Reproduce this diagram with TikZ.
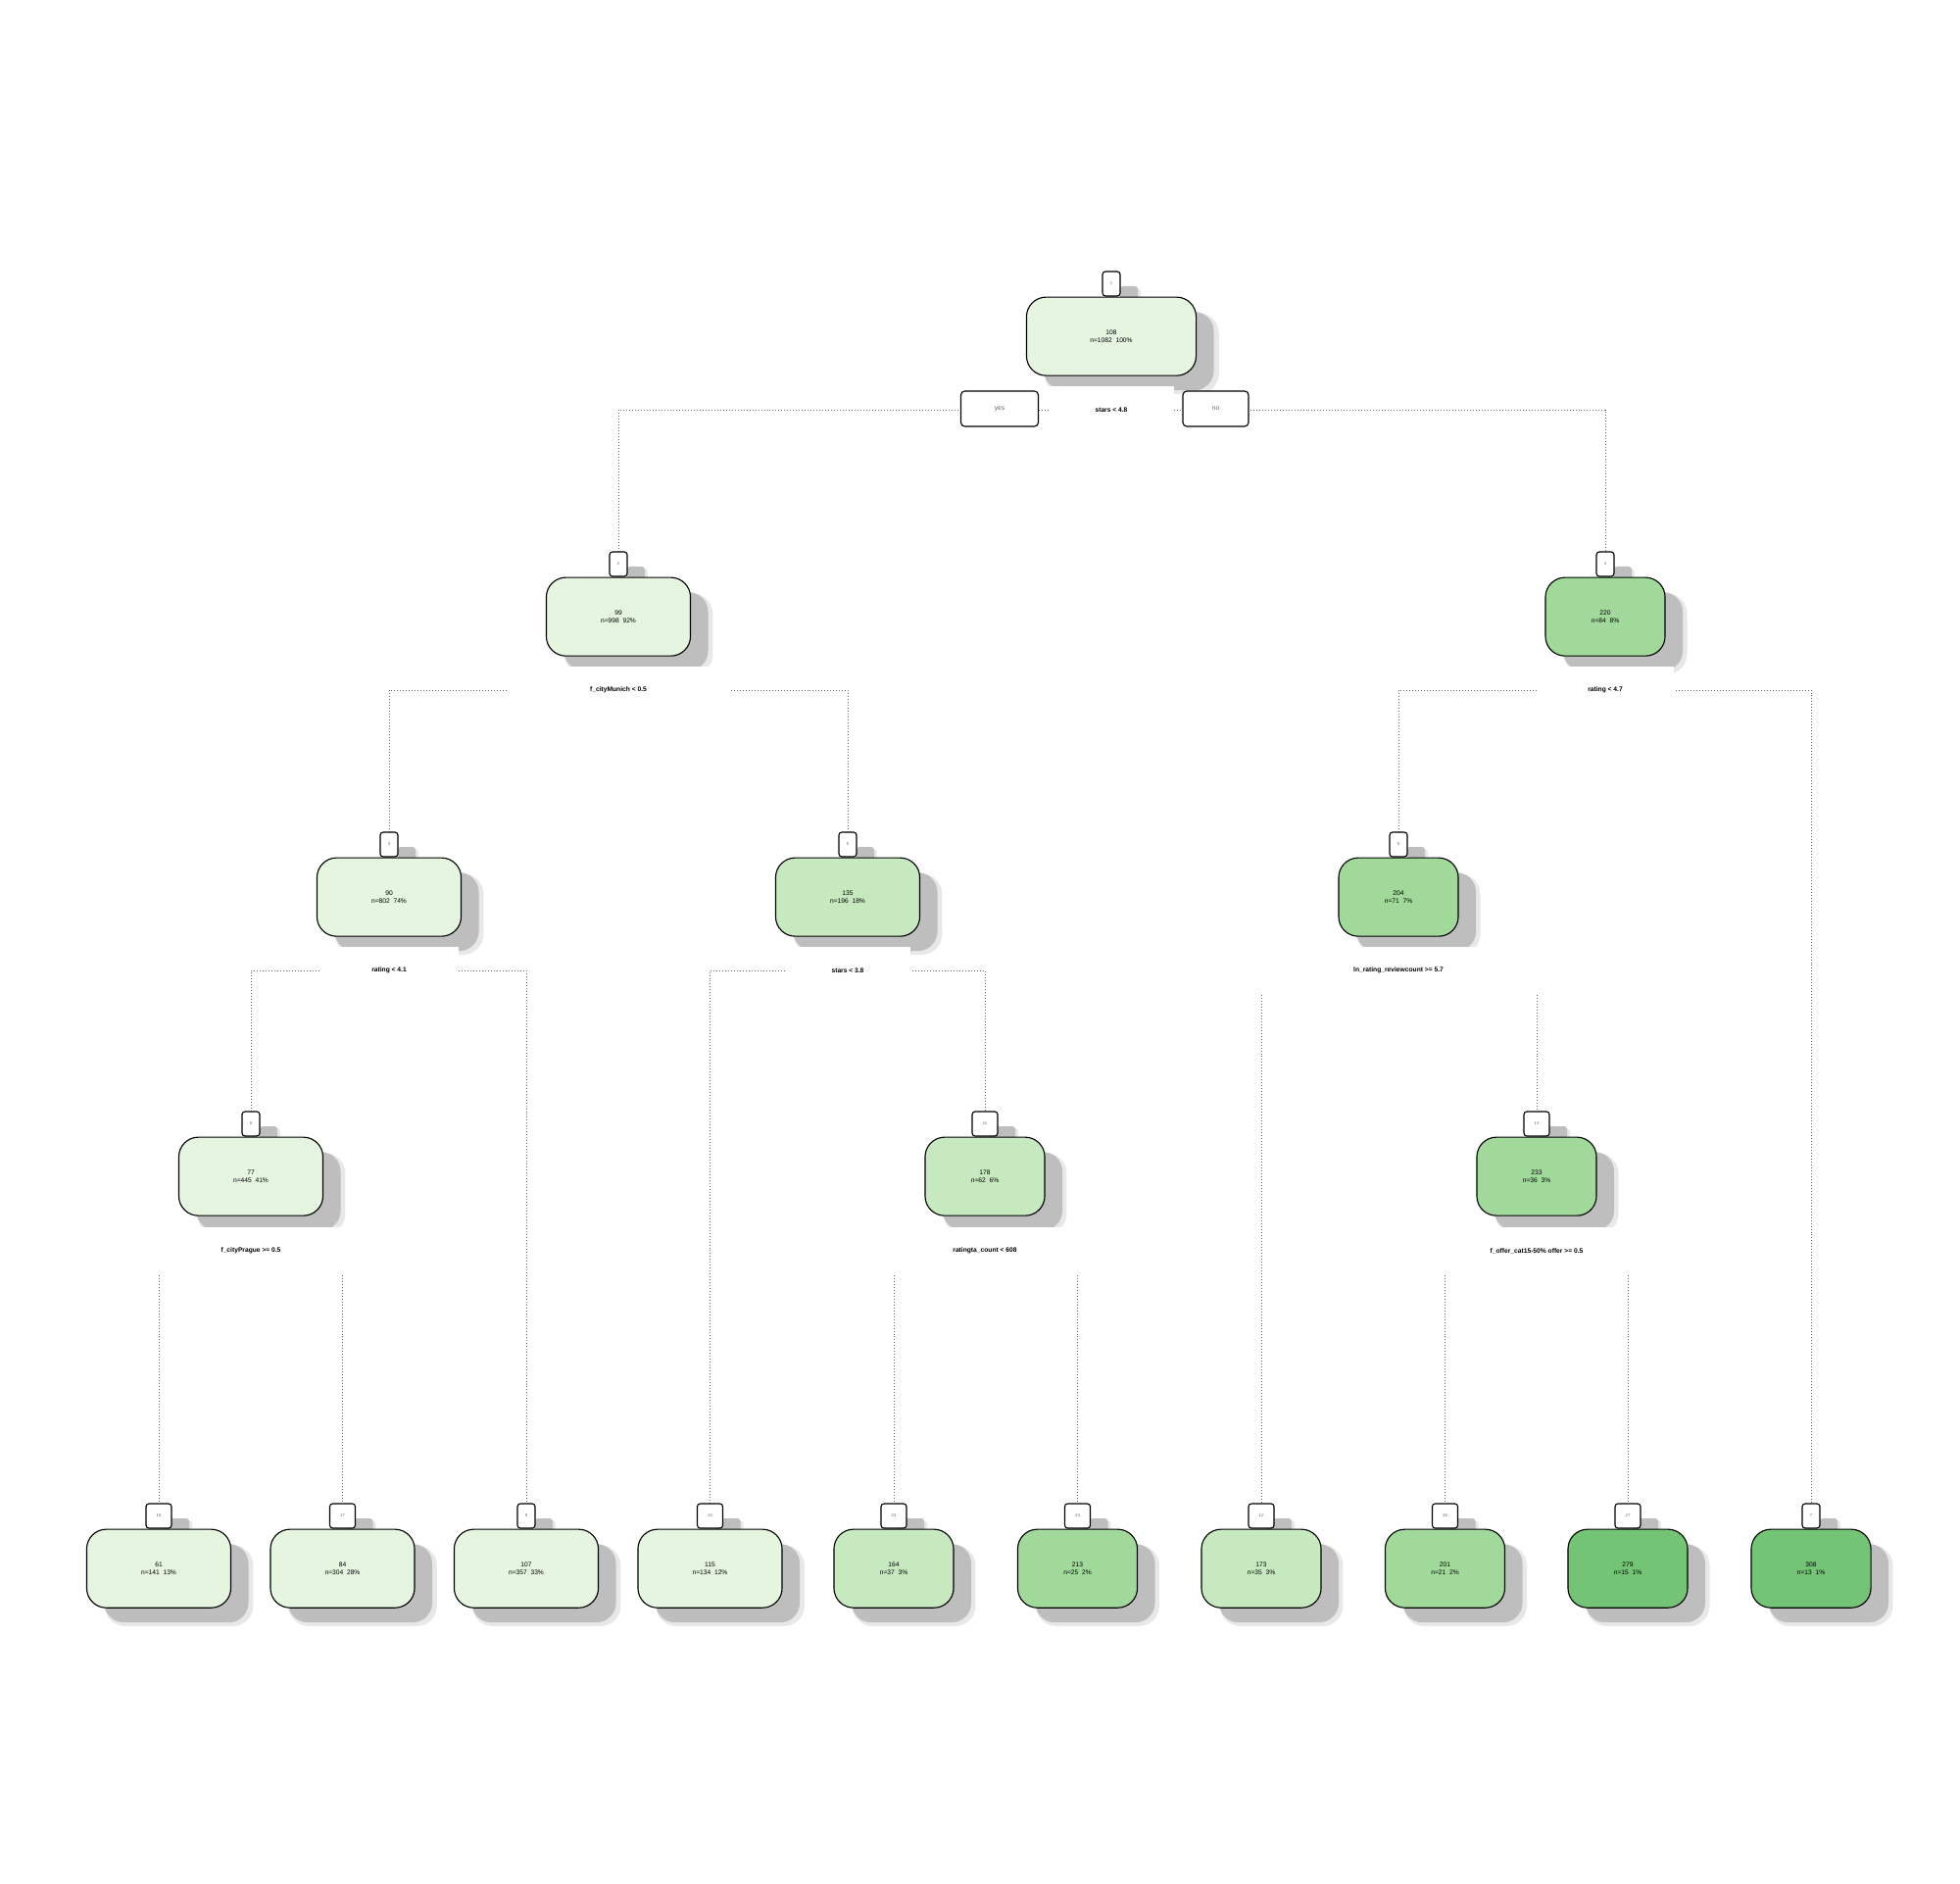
\documentclass[tikz,border=0pt]{standalone}
\usepackage{fontspec}
\setmainfont{Liberation Sans}
\usepackage{tikz}
\usetikzlibrary{positioning,shadows,backgrounds}
\definecolor{cLight}{HTML}{E5F5E0}
\definecolor{cPale}{HTML}{C7E9C0}
\definecolor{cMid}{HTML}{A1D99B}
\definecolor{cDeep}{HTML}{74C476}
\definecolor{cShadow}{HTML}{BEBEBE}
\newcommand{\boxfont}{\fontsize{1.9pt}{2.3pt}\selectfont}
\newcommand{\tabfont}{\fontsize{1.2pt}{1.4pt}\selectfont}
\newcommand{\splitfont}{\fontsize{1.9pt}{2.3pt}\selectfont\bfseries}
\tikzset{
  fuzzy/.style={drop shadow={shadow xshift=0.2cm,shadow yshift=-0.17cm,
                             shadow scale=1.03,fill=cShadow!35,opacity=1},
                drop shadow={shadow xshift=0.18cm,shadow yshift=-0.15cm,
                             fill=cShadow,opacity=1}},
  basebox/.style={rectangle,rounded corners=0.2cm,draw=black,line width=0.32pt,
                  align=center,font=\boxfont,inner sep=0pt,
                  minimum height=0.8cm,fuzzy},
  widebox/.style={basebox,minimum width=1.47cm},
  slimbox/.style={basebox,minimum width=1.22cm},
  tabnode/.style={rectangle,rounded corners=0.03cm,draw=black,line width=0.32pt,
                  fill=white,font=\tabfont,text=black!60,inner sep=0pt,
                  minimum width=0.18cm,minimum height=0.25cm,fuzzy},
  widetab/.style={tabnode,minimum width=0.26cm},
  splitlbl/.style={rectangle,fill=white,font=\splitfont,inner sep=0pt,
                   minimum height=0.48cm},
  yesno/.style={rectangle,rounded corners=0.04cm,draw=black,line width=0.32pt,
                fill=white,font=\boxfont,text=black!60,inner sep=0pt,
                minimum height=0.36cm},
  dotline/.style={line width=0.25pt,dash pattern=on 0.25pt off 0.6pt,
                  color=black!60}
}
\begin{document}
\begin{tikzpicture}[x=0.01cm,y=-0.01cm]
  \useasboundingbox (0,0) rectangle (2000,1922);

  % Root
  \node[tabnode] (t1) at (1134,289.5) {1};
  \node[basebox,fill=cLight,minimum width=1.73cm,below=0pt of t1] (n1)
      {108\\n=1082\ \ 100\%};

  % Level 2
  \node[tabnode] (t2) at (631,575.5) {2};
  \node[widebox,fill=cLight,below=0pt of t2] (n2) {99\\n=998\ \ 92\%};
  \node[tabnode] (t3) at (1638,575.5) {3};
  \node[slimbox,fill=cMid,below=0pt of t3] (n3) {220\\n=84\ \ 8\%};

  % Level 3
  \node[tabnode] (t4) at (397,861.5) {4};
  \node[widebox,fill=cLight,below=0pt of t4] (n4) {90\\n=802\ \ 74\%};
  \node[tabnode] (t5) at (865,861.5) {5};
  \node[widebox,fill=cPale,below=0pt of t5] (n5) {135\\n=196\ \ 18\%};
  \node[tabnode] (t6) at (1427,861.5) {6};
  \node[slimbox,fill=cMid,below=0pt of t6] (n6) {204\\n=71\ \ 7\%};

  % Level 4
  \node[tabnode] (t8) at (256,1146.5) {8};
  \node[widebox,fill=cLight,below=0pt of t8] (n8) {77\\n=445\ \ 41\%};
  \node[widetab] (t11) at (1005,1146.5) {11};
  \node[slimbox,fill=cPale,below=0pt of t11] (n11) {178\\n=62\ \ 6\%};
  \node[widetab] (t13) at (1568,1146.5) {13};
  \node[slimbox,fill=cMid,below=0pt of t13] (n13) {233\\n=36\ \ 3\%};

  % Leaves
  \node[widetab] (t16) at (162,1546.5) {16};
  \node[widebox,fill=cLight,below=0pt of t16] (n16) {61\\n=141\ \ 13\%};
  \node[widetab] (t17) at (349.5,1546.5) {17};
  \node[widebox,fill=cLight,below=0pt of t17] (n17) {84\\n=304\ \ 28\%};
  \node[tabnode] (t9) at (537,1546.5) {9};
  \node[widebox,fill=cLight,below=0pt of t9] (n9) {107\\n=357\ \ 33\%};
  \node[widetab] (t10) at (724.5,1546.5) {10};
  \node[widebox,fill=cLight,below=0pt of t10] (n10) {115\\n=134\ \ 12\%};
  \node[widetab] (t22) at (912,1546.5) {22};
  \node[slimbox,fill=cPale,below=0pt of t22] (n22) {164\\n=37\ \ 3\%};
  \node[widetab] (t23) at (1099.5,1546.5) {23};
  \node[slimbox,fill=cMid,below=0pt of t23] (n23) {213\\n=25\ \ 2\%};
  \node[widetab] (t12) at (1287,1546.5) {12};
  \node[slimbox,fill=cPale,below=0pt of t12] (n12) {173\\n=35\ \ 3\%};
  \node[widetab] (t26) at (1474.5,1546.5) {26};
  \node[slimbox,fill=cMid,below=0pt of t26] (n26) {201\\n=21\ \ 2\%};
  \node[widetab] (t27) at (1661,1546.5) {27};
  \node[slimbox,fill=cDeep,below=0pt of t27] (n27) {279\\n=15\ \ 1\%};
  \node[tabnode] (t7) at (1848,1546.5) {7};
  \node[slimbox,fill=cDeep,below=0pt of t7] (n7) {308\\n=13\ \ 1\%};

  % Split labels
  \node[splitlbl,minimum width=1.28cm] (s1) at (1134,418) {stars < 4.8};
  \node[splitlbl,minimum width=2.25cm] (s2) at (631,704) {f\_cityMunich < 0.5};
  \node[splitlbl,minimum width=1.40cm] (s3) at (1638,704) {rating < 4.7};
  \node[splitlbl,minimum width=1.42cm] (s4) at (397,990) {rating < 4.1};
  \node[splitlbl,minimum width=1.27cm] (s5) at (865,990) {stars < 3.8};
  \node[splitlbl,minimum width=2.10cm] (s6) at (1427,990)
      {ln\_rating\_reviewcount >= 5.7};
  \node[splitlbl,minimum width=2.10cm] (s8) at (256,1276)
      {f\_cityPrague >= 0.5};
  \node[splitlbl,minimum width=2.10cm] (s11) at (1005,1276)
      {ratingta\_count < 608};
  \node[splitlbl,minimum width=2.10cm] (s13) at (1568,1276)
      {f\_offer\_cat15-50\% offer >= 0.5};

  \node[yesno,minimum width=0.79cm] (yes) at (1020,417) {yes};
  \node[yesno,minimum width=0.67cm] (no) at (1240.5,417) {no};

  % Branches
  \begin{pgfonlayer}{background}
    \draw[dotline] (t2.north) |- (s1.center) -| (t3.north);
    \draw[dotline] (t4.north) |- (s2.center) -| (t5.north);
    \draw[dotline] (t6.north) |- (s3.center) -| (t7.north);
    \draw[dotline] (t8.north) |- (s4.center) -| (t9.north);
    \draw[dotline] (t10.north) |- (s5.center) -| (t11.north);
    \draw[dotline] (s6.south -| t12.north) -- (t12.north);
    \draw[dotline] (s6.south -| t13.north) -- (t13.north);
    \draw[dotline] (s8.south -| t16.north) -- (t16.north);
    \draw[dotline] (s8.south -| t17.north) -- (t17.north);
    \draw[dotline] (s11.south -| t22.north) -- (t22.north);
    \draw[dotline] (s11.south -| t23.north) -- (t23.north);
    \draw[dotline] (s13.south -| t26.north) -- (t26.north);
    \draw[dotline] (s13.south -| t27.north) -- (t27.north);
  \end{pgfonlayer}

\end{tikzpicture}
\end{document}
